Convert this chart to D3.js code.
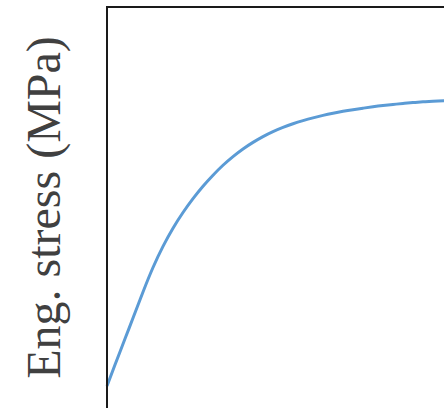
<!DOCTYPE html>
<html>
<head>
<meta charset="utf-8">
<script src="https://cdn.jsdelivr.net/npm/d3@7"></script>
<style>
  html, body { margin: 0; padding: 0; background: #fff; overflow: hidden; }
</style>
</head>
<body>
<svg id="chart"></svg>
<script>
let svgWidth = 444, svgHeight = 408

// strain (%) and engineering stress (MPa)
let strain = [0, 0.4, 0.9, 1.3, 1.8, 2.3, 2.8, 3.3, 3.8, 4.3, 4.8, 5.3, 5.8, 6.3, 6.8, 7.3,
  7.8, 8.3, 8.8, 9.3, 9.8, 10.3, 10.8, 11.3, 11.8, 12.3, 12.8, 13.3, 13.8, 14.3, 14.8,
  15.3, 15.8, 16.3, 16.85, 18]
let stress = [41.2, 66.8, 98.3, 123.5, 155.0, 184.6, 210.2, 232.2, 251.2, 268.0, 283.0, 296.4,
  308.4, 318.9, 328.1, 336.1, 343.1, 349.1, 354.2, 358.6, 362.4, 365.8, 368.8, 371.4, 373.7,
  375.7, 377.5, 379.2, 380.7, 382.0, 383.2, 384.25, 385.15, 385.9, 386.55, 387.65]
let yLabel = 'Eng. stress (MPa)'

let margin = { left: 107, top: 7 }
let plotRight = 520, plotBottom = 420

let svg = d3.select('#chart').attr('width', svgWidth).attr('height', svgHeight)

let x = d3.scaleLinear().domain([0, 20]).range([margin.left, margin.left + 400])
let y = d3.scaleLinear().domain([0, 500]).range([plotBottom, margin.top])

let data = strain.map((s, i) => ({ s: s, v: stress[i] }))

let line = d3.line()
  .x(d => x(d.s))
  .y(d => y(d.v))
  .curve(d3.curveNatural)

svg.append('path')
  .datum(data)
  .attr('fill', 'none')
  .attr('stroke', '#5b9bd5')
  .attr('stroke-width', 3)
  .attr('stroke-linejoin', 'round')
  .attr('d', line)

// frame (runs off the right and bottom edge)
svg.append('rect')
  .attr('x', x(0))
  .attr('y', y(500))
  .attr('width', plotRight - x(0))
  .attr('height', plotBottom - y(500))
  .attr('fill', 'none')
  .attr('stroke', '#1a1a1a')
  .attr('stroke-width', 2)

svg.append('text')
  .attr('transform', 'translate(60,' + 207.5 + ') rotate(-90)')
  .attr('text-anchor', 'middle')
  .attr('font-family', '"Liberation Serif", "Times New Roman", serif')
  .attr('font-size', 48)
  .attr('fill', '#404040')
  .text(yLabel)
</script>
</body>
</html>
